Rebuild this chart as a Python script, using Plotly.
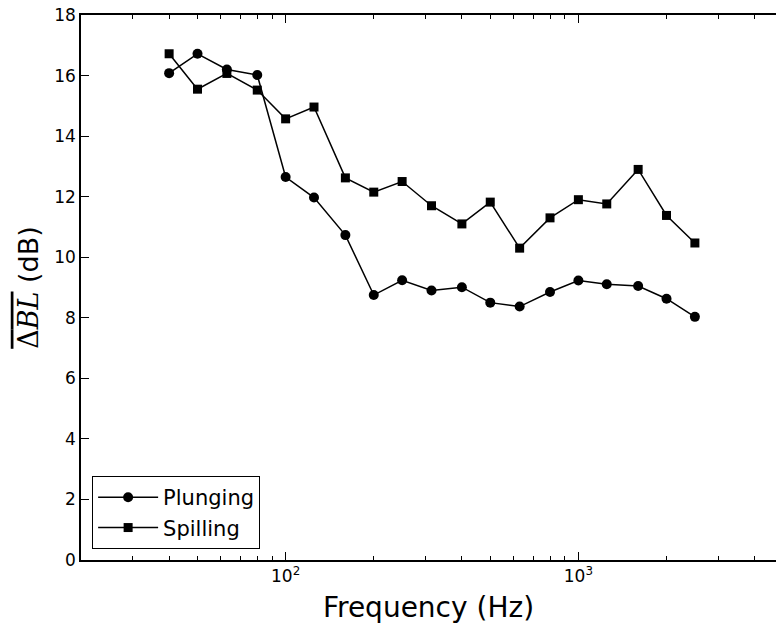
import numpy as np
import plotly.graph_objects as go

freq = [40, 50, 63, 80, 100, 125, 160, 200, 250, 315, 400, 500, 630, 800, 1000, 1250, 1600, 2000, 2500]
plunging = [16.08, 16.72, 16.2, 16.02, 12.65, 11.97, 10.73, 8.75, 9.24, 8.9, 9.01, 8.5, 8.37, 8.85, 9.23, 9.11, 9.05, 8.63, 8.03]
spilling = [16.72, 15.55, 16.07, 15.52, 14.57, 14.96, 12.62, 12.15, 12.5, 11.7, 11.1, 11.82, 10.3, 11.3, 11.9, 11.76, 12.9, 11.38, 10.47]

major_x = [100, 1000]
major_x_text = ["10<sup>2</sup>", "10<sup>3</sup>"]
minor_x = [20, 30, 40, 50, 60, 70, 80, 90, 200, 300, 400, 500, 600, 700, 800, 900, 2000, 3000, 4000]
y_ticks = list(range(0, 19, 2))

fig = go.Figure()
fig.add_trace(go.Scatter(x=freq, y=plunging, name="Plunging", mode="lines+markers",
                         line=dict(color="black", width=1.5),
                         marker=dict(symbol="circle", size=10, color="black")))
fig.add_trace(go.Scatter(x=freq, y=spilling, name="Spilling", mode="lines+markers",
                         line=dict(color="black", width=1.5),
                         marker=dict(symbol="square", size=9, color="black")))

fig.update_layout(
    width=776, height=628,
    margin=dict(l=81, r=0, t=15, b=68),
    plot_bgcolor="white", paper_bgcolor="white",
    font=dict(family="DejaVu Sans", color="black", size=15),
    showlegend=True,
    legend=dict(x=0.016, y=0.02, xanchor="left", yanchor="bottom",
                bordercolor="black", borderwidth=1, bgcolor="white",
                font=dict(size=21), itemwidth=60),
    xaxis=dict(type="log", range=[np.log10(20), 3.675],
               tickmode="array", tickvals=major_x, ticktext=major_x_text,
               ticks="inside", ticklen=8, tickcolor="black", tickwidth=1,
               minor=dict(tickmode="array", tickvals=minor_x, ticks="inside", ticklen=4,
                          tickcolor="black", showgrid=False),
               showline=True, linecolor="black", linewidth=1.5, mirror="ticks",
               showgrid=False, zeroline=False,
               tickfont=dict(size=17),
               title=dict(text="Frequency (Hz)", font=dict(size=28), standoff=12)),
    yaxis=dict(range=[0, 18], tickmode="array", tickvals=y_ticks,
               ticks="inside", ticklen=8, tickcolor="black", tickwidth=1,
               showline=True, linecolor="black", linewidth=1.5, mirror=False,
               showgrid=False, zeroline=False,
               tickfont=dict(size=17),
               title=dict(text="<span style='text-decoration:overline;font-family:DejaVu Serif'>Δ<i>BL</i></span> (dB)",
                          font=dict(size=27, family="DejaVu Sans"), standoff=8)),
)

fig.write_html("out.html", config={"displayModeBar": False},
               post_script="document.body.style.margin='0px';")
